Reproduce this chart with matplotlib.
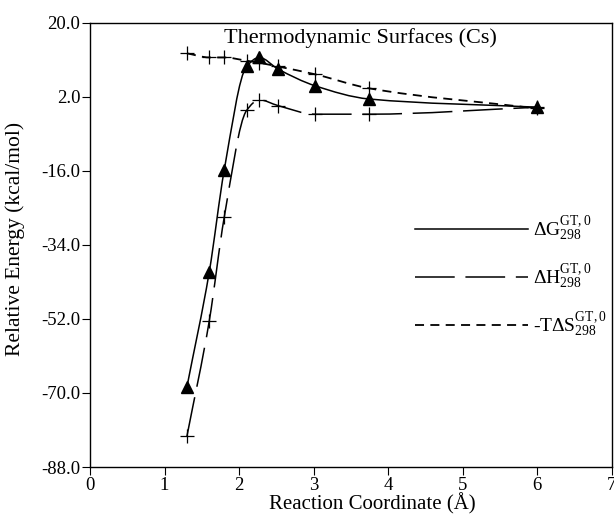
# Thermodynamic surfaces along the reaction coordinate (Cs)

import numpy as np
import matplotlib
matplotlib.use("Agg")
import matplotlib.pyplot as plt
from matplotlib.path import Path
from matplotlib.patches import PathPatch
from matplotlib.lines import Line2D

plt.rcParams["font.family"] = ["Liberation Serif", "DejaVu Serif"]
plt.rcParams["mathtext.fontset"] = "custom"
plt.rcParams["mathtext.rm"] = "Liberation Serif"
plt.rcParams["mathtext.it"] = "Liberation Serif:italic"
plt.rcParams["mathtext.bf"] = "Liberation Serif:bold"

# data
r_coord = [1.30, 1.60, 1.80, 2.10, 2.27, 2.52, 3.02, 3.74, 6.00]
dG = [-68.5, -40.5, -15.8, 9.4, 11.6, 8.8, 4.7, 1.5, -0.5]
dH = [-80.5, -52.4, -27.3, -1.3, 1.3, -0.1, -2.2, -2.2, -0.5]
tdS = [12.6, 11.6, 11.6, 10.8, 10.3, 9.4, 7.5, 4.1, -0.8]

labels = [r"$\mathrm{\Delta G}^{\mathrm{GT,0}}_{\mathrm{298}}$",
          r"$\mathrm{\Delta H}^{\mathrm{GT,0}}_{\mathrm{298}}$",
          r"$\mathrm{\text{-}T\Delta S}^{\mathrm{GT,0}}_{\mathrm{298}}$"]

y_ticks = [20.0, 2.0, -16.0, -34.0, -52.0, -70.0, -88.0]
x_ticks = [0, 1, 2, 3, 4, 5, 6, 7]


# smooth monotone curve through the points, drawn as cubic bezier segments
def smooth_path(x, y):
    x = np.asarray(x, float)
    y = np.asarray(y, float)
    h = np.diff(x)
    d = np.diff(y) / h
    m = np.zeros_like(y)
    m[0] = d[0]
    m[-1] = d[-1]
    for i in range(1, len(x) - 1):
        if d[i - 1] * d[i] <= 0:
            m[i] = 0.0
        else:
            w1 = 2 * h[i] + h[i - 1]
            w2 = h[i] + 2 * h[i - 1]
            m[i] = (w1 + w2) / (w1 / d[i - 1] + w2 / d[i])
    verts = [(x[0], y[0])]
    codes = [Path.MOVETO]
    for i in range(len(x) - 1):
        verts.append((x[i] + h[i] / 3, y[i] + m[i] * h[i] / 3))
        verts.append((x[i + 1] - h[i] / 3, y[i + 1] - m[i + 1] * h[i] / 3))
        verts.append((x[i + 1], y[i + 1]))
        codes += [Path.CURVE4] * 3
    return Path(verts, codes)


fig = plt.figure(figsize=(6.14, 5.17), dpi=100)
ax = fig.add_axes([0.1466, 0.0967, 0.850, 0.859])

styles = [
    dict(ls="-", lw=1.1),
    dict(ls=(0, (26, 7)), lw=1.1),
    dict(ls=(0, (5, 3.5)), lw=1.3),
]
series = [dG, dH, tdS]
markers = [dict(marker="^", ms=8, mfc="black", mec="black"),
           dict(marker="+", ms=10, mew=0.9, mec="black"),
           dict(marker="+", ms=10, mew=0.9, mec="black")]

for vals, st, mk in zip(series, styles, markers):
    patch = PathPatch(smooth_path(r_coord, vals), fill=False,
                      edgecolor="black", linestyle=st["ls"],
                      linewidth=st["lw"], zorder=2)
    ax.add_patch(patch)
    ax.plot(r_coord, vals, ls="none", zorder=3, **mk)

ax.set_xlim(0, 7)
ax.set_ylim(-88, 20)
ax.set_xticks(x_ticks)
ax.set_yticks(y_ticks)
ax.set_yticklabels([f"{v:.1f}" for v in y_ticks])
ax.tick_params(direction="out", length=6, width=0.8, labelsize=13.5,
               colors="black", pad=1)
for sp in ax.spines.values():
    sp.set_linewidth(1.0)

ax.set_xlabel("Reaction Coordinate (\u00c5)", fontsize=15)
ax.set_ylabel("Relative Energy (kcal/mol)", fontsize=15.5)
ax.xaxis.set_label_coords(0.54, -0.058)
ax.yaxis.set_label_coords(-0.124, 0.514)
ax.text(0.519, 0.988, "Thermodynamic Surfaces (Cs)", transform=ax.transAxes,
        ha="center", va="top", fontsize=16)

handles = [Line2D([], [], color="black", linestyle=st["ls"], lw=st["lw"])
           for st in styles]
ax.legend(handles, labels, loc="center left", bbox_to_anchor=(0.589, 0.429),
          frameon=False, fontsize=14, handlelength=5.8, handletextpad=0.25,
          labelspacing=1.0)

fig.savefig("out.png", dpi=100)
